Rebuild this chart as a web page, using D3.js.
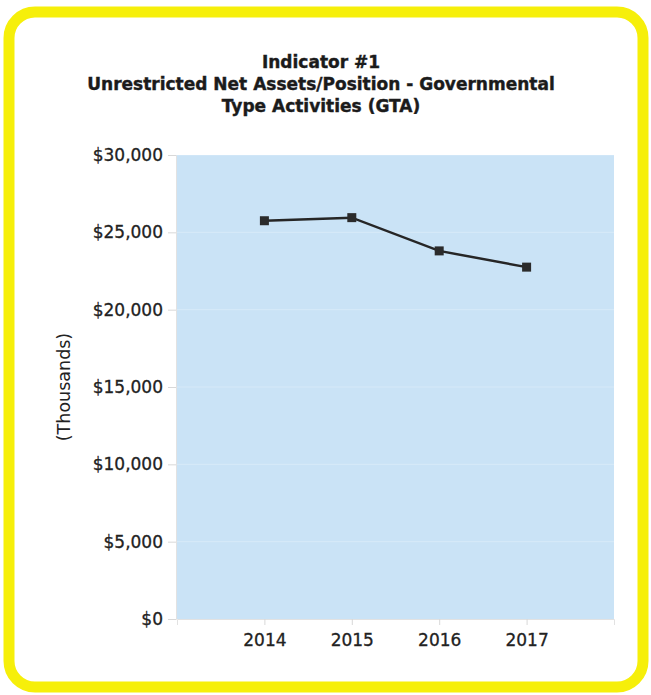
<!DOCTYPE html>
<html>
<head>
<meta charset="utf-8">
<script src="https://cdn.jsdelivr.net/npm/d3@7"></script>
<style>
  body { margin: 0; background: #fff; }
  svg { display: block; font-family: "DejaVu Sans", Verdana, sans-serif; }
</style>
</head>
<body>
<svg id="chart"></svg>
<script>
const years = ["2014", "2015", "2016", "2017"];
const values = [25750, 25950, 23800, 22750];
const yTicks = [0, 5000, 10000, 15000, 20000, 25000, 30000];
const titleLines = [
  "Indicator #1",
  "Unrestricted Net Assets/Position - Governmental",
  "Type Activities (GTA)"
];

const width = 651;
const height = 695;

// plot area
const plotLeft = 177, plotRight = 614, plotTop = 155, plotBottom = 619;

const svg = d3.select("#chart").attr("width", width).attr("height", height);

// yellow frame
svg.append("rect")
  .attr("x", 9).attr("y", 12)
  .attr("width", 634).attr("height", 675)
  .attr("rx", 26).attr("ry", 26)
  .attr("fill", "#fff")
  .attr("stroke", "#f6ef0a")
  .attr("stroke-width", 11);

// title
svg.append("g")
  .selectAll("text")
  .data(titleLines)
  .enter()
  .append("text")
  .attr("x", 321)
  .attr("y", (d, i) => 68 + i * 22)
  .attr("text-anchor", "middle")
  .attr("font-size", 17)
  .attr("font-weight", "bold")
  .attr("fill", "#1b1b1b")
  .attr("stroke", "#1b1b1b")
  .attr("stroke-width", 0.4)
  .text(d => d);

let x = d3.scalePoint().domain(years).range([plotLeft, plotRight]).padding(1);
let y = d3.scaleLinear().domain([0, 30000]).range([plotBottom, plotTop]);

// plot background
svg.append("rect")
  .attr("x", plotLeft - 1).attr("y", plotTop)
  .attr("width", plotRight - plotLeft + 1).attr("height", plotBottom - plotTop)
  .attr("fill", "#cae3f6");

// faint gridlines
svg.append("g")
  .selectAll("line")
  .data(yTicks.slice(1))
  .enter()
  .append("line")
  .attr("x1", plotLeft).attr("x2", plotRight)
  .attr("y1", d => y(d)).attr("y2", d => y(d))
  .attr("stroke", "#ffffff")
  .attr("stroke-opacity", 0.25);

let yAxis = svg.append("g")
  .attr("transform", `translate(${plotLeft - 1},0)`)
  .call(d3.axisLeft(y).tickValues(yTicks).tickFormat(d3.format("$,.0f"))
    .tickSize(8).tickPadding(5));

let xAxis = svg.append("g")
  .attr("transform", `translate(0,${plotBottom})`)
  .call(d3.axisBottom(x).tickSize(6).tickPadding(9));

[yAxis, xAxis].forEach(ax => {
  ax.select(".domain").attr("stroke", "#e2e2e2");
  ax.selectAll(".tick line").attr("stroke", "#d8d8d8");
  ax.selectAll(".tick text")
    .attr("font-size", 17)
    .attr("font-family", "DejaVu Sans, sans-serif")
    .attr("fill", "#222")
    .attr("stroke", "#222")
    .attr("stroke-width", 0.3);
});

// y axis title
svg.append("text")
  .attr("transform", "translate(70,387) rotate(-90)")
  .attr("text-anchor", "middle")
  .attr("font-size", 17.5)
  .attr("fill", "#222")
  .text("(Thousands)");

// the series
let line = d3.line()
  .x((d, i) => x(years[i]))
  .y(d => y(d));

svg.append("path")
  .datum(values)
  .attr("fill", "none")
  .attr("stroke", "#262626")
  .attr("stroke-width", 2.5)
  .attr("d", line);

svg.append("g")
  .selectAll("rect")
  .data(values)
  .enter()
  .append("rect")
  .attr("x", (d, i) => x(years[i]) - 4.5)
  .attr("y", d => y(d) - 4.5)
  .attr("width", 9)
  .attr("height", 9)
  .attr("fill", "#2b2b2b");
</script>
</body>
</html>
